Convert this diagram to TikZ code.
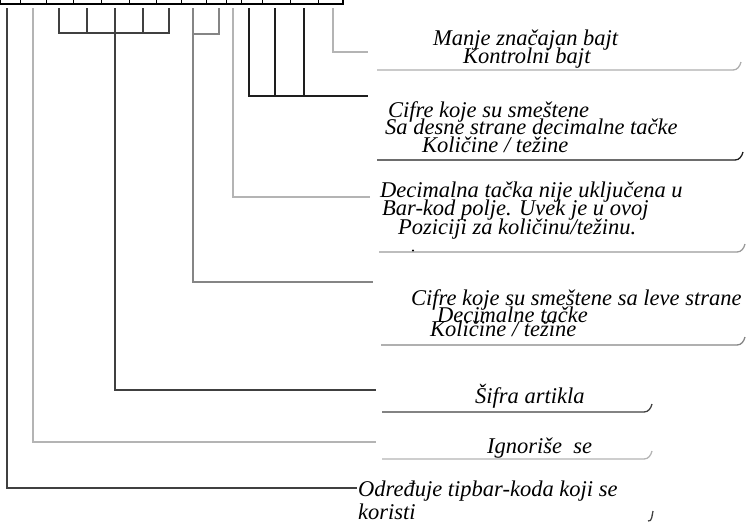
\documentclass[tikz,border=0pt]{standalone}
\usepackage{fontspec}
\setmainfont{Liberation Serif}
\definecolor{cdark}{HTML}{404040}
\definecolor{clight}{HTML}{B4B4B4}
\definecolor{cmed}{HTML}{858585}
\definecolor{cblack}{HTML}{1E1E1E}
\definecolor{cgray}{HTML}{9A9A9A}
\tikzset{
  lbl/.style={anchor=base west, inner sep=0pt, font=\fontsize{22.5}{22.5}\selectfont\itshape},
  conn/.style={line width=1.3pt},
  uline/.style={line width=1.3pt}}
\begin{document}
\begin{tikzpicture}[x=1pt,y=-1pt]
\useasboundingbox (0,0) rectangle (747,523);
\clip (0,0) rectangle (747,523);
% top row of cells (cut off)
\draw[line width=1.6pt, black] (0,-20) rectangle (343,4);
\foreach \x in {20,46,73,101,129,156,181,206,226,241,262,290,318}
  \draw[line width=1pt] (\x,-20) -- (\x,4);
% tap coordinates
\foreach \n/\x in {t1/7,t2/33,a1/59,a2/87,a3/115,a4/143,a5/169,b1/193,b2/219,t8/233,c1/249,c2/275,c3/304,t10/333}
  \coordinate (\n) at (\x,8);
% connector ends
\coordinate (e1) at (368,52);
\coordinate (e2) at (368,96);
\coordinate (e3) at (370,197);
\coordinate (e4) at (373,282);
\coordinate (e5) at (376,390);
\coordinate (e6) at (376,442);
\coordinate (e7) at (357,488);
% labels
\node[lbl] (l1a) at (433,45) {Manje značajan bajt};
\node[lbl] (l1b) at (463,63) {Kontrolni bajt};
\node[lbl] (l2a) at (388,117) {Cifre koje su smeštene};
\node[lbl] (l2b) at (385,134) {Sa desne strane decimalne tačke};
\node[lbl] (l2c) at (422,152) {Količine / težine};
\node[lbl] (l3a) at (380,197) {Decimalna tačka nije uključena u};
\node[lbl] (l3b) at (382,215) {Bar-kod polje. Uvek je u ovoj};
\node[lbl] (l3c) at (398,234) {Poziciji za količinu/težinu.};
\node[lbl] (l4a) at (411,305) {Cifre koje su smeštene sa leve strane};
\node[lbl] (l4b) at (437,322) {Decimalne tačke};
\node[lbl] (l4c) at (430,336) {Količine / težine};
\node[lbl] (l5) at (475,403) {Šifra artikla};
\node[lbl] (l6) at (487,453) {Ignoriše\ \ se};
\node[lbl] (l7a) at (358,496) {Određuje tipbar-koda koji se};
\node[lbl] (l7b) at (358,519) {koristi};
% underlines
\draw[uline, cgray!80] (377,70) -- (733,70) to[out=0,in=-105] (741,62);
\draw[uline, cblack] (377,160) -- (735,160) to[out=0,in=-105] (743,152);
\draw[uline, cgray] (379,252) -- (737,252) to[out=0,in=-105] (745,244);
\fill (413,250.5) circle (1.1);
\draw[uline, cmed] (381,345) -- (737,345) to[out=0,in=-105] (745,337);
\draw[uline, cdark] (382,412) -- (644,412) to[out=0,in=-105] (652,404);
\draw[uline, clight] (382,459) -- (644,459) to[out=0,in=-105] (652,451);
\draw[uline, cdark] (648,521) to[out=-10,in=-105] (653,511);
% connectors
\draw[conn, cdark] (t1) |- (e7);
\draw[conn, clight] (t2) |- (e6);
\draw[conn, cdark] (a1) -- (a1|-0,33) -- (a5|-0,33) -- (a5);
\foreach \n in {a2,a3,a4} \draw[conn, cdark] (\n) -- (\n|-0,33);
\draw[conn, cdark] (a3|-0,33) |- (e5);
\draw[conn, cmed] (b1) -- (b1|-0,34) -- (b2|-0,34) -- (b2);
\draw[conn, cmed] (b1|-0,34) |- (e4);
\draw[conn, clight] (t8) |- (e3);
\draw[conn, cblack] (c1) |- (e2);
\draw[conn, cblack] (c2) -- (c2|-e2);
\draw[conn, cblack] (c3) -- (c3|-e2);
\draw[conn, clight] (t10) |- (e1);
\end{tikzpicture}
\end{document}
